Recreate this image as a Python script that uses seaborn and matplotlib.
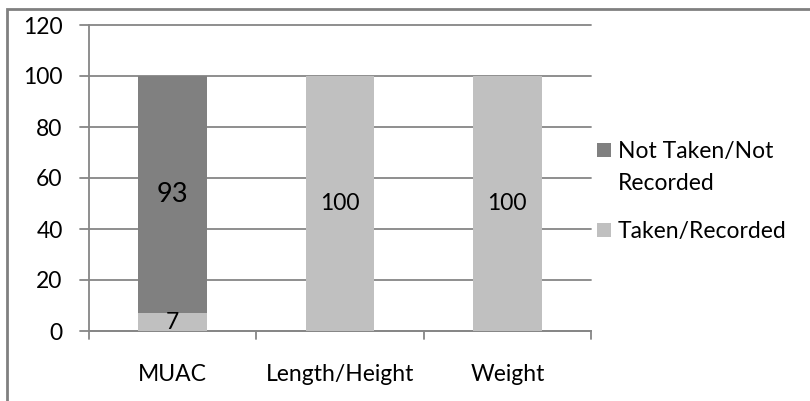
import matplotlib
matplotlib.use("Agg")
import matplotlib.pyplot as plt
import seaborn as sns
import pandas as pd
from matplotlib.patches import Rectangle

categories = ["MUAC", "Length/Height", "Weight"]
taken = [7, 100, 100]
not_taken = [93, 0, 0]
series_names = ["Not Taken/Not Recorded", "Taken/Recorded"]
legend_lines = [["Not Taken/Not", "Recorded"], ["Taken/Recorded"]]
yticks = [0, 20, 40, 60, 80, 100, 120]

sns.set_theme(style="white")
plt.rcParams['font.family'] = ['Lato', 'DejaVu Sans']

c_dark = "#808080"
c_light = "#C0C0C0"
grid_c = "#868686"
FS = 16.5

W, H = 810, 401
fig = plt.figure(figsize=(8.10, 4.01), dpi=100)
ax = fig.add_axes([89/W, 1 - 331/H, (591-89)/W, (331-25)/H])

df = pd.DataFrame({"cat": categories, "taken": taken, "not_taken": not_taken})
df["total"] = df["taken"] + df["not_taken"]

sns.barplot(data=df, x="cat", y="total", color=c_dark, width=0.41, ax=ax,
            saturation=1, edgecolor="none", zorder=3)
sns.barplot(data=df, x="cat", y="taken", color=c_light, width=0.41, ax=ax,
            saturation=1, edgecolor="none", zorder=4)

ax.set_ylim(0, 120)
ax.set_xlim(-0.5, 2.5)
ax.set_yticks(yticks)
ax.set_yticklabels([str(v) for v in yticks], fontsize=FS, color="black")
ax.tick_params(axis="y", length=0, pad=19)
ax.tick_params(axis="x", length=0, pad=23.5, labelsize=FS, labelcolor="black")
for y in yticks:
    ax.axhline(y, color=grid_c, lw=1.3, zorder=1, xmin=-0.018, clip_on=False)
ax.set_xlabel("")
ax.set_ylabel("")
for s in ["top", "right"]:
    ax.spines[s].set_visible(False)
ax.spines["left"].set_color(grid_c)
ax.spines["left"].set_linewidth(1.3)
ax.spines["bottom"].set_color(grid_c)
ax.spines["bottom"].set_linewidth(1.3)
# category boundary tick marks below axis
for xb in [-0.5, 0.5, 1.5, 2.5]:
    ax.plot([xb, xb], [0, -3.3], color=grid_c, lw=1.3, clip_on=False, zorder=2)

# data labels
for i, (t, n) in enumerate(zip(taken, not_taken)):
    if n > 0:
        ax.text(i, t + n / 2, str(n), ha="center", va="center", fontsize=19.5,
                color="black", zorder=5)
        ax.text(i, t / 2, str(t), ha="center", va="center", fontsize=FS,
                color="black", zorder=5)
    else:
        ax.text(i, 50, str(t), ha="center", va="center", fontsize=FS,
                color="black", zorder=5)

# legend (drawn manually to match the wrapped-label layout)
leg_colors = [c_dark, c_light]
sq_tops = [143, 223]
baselines = [[158, 190], [238]]
for col, top, lines, bls in zip(leg_colors, sq_tops, legend_lines, baselines):
    fig.patches.append(Rectangle((597/W, 1 - (top + 14)/H), 14/W, 14/H,
                                 transform=fig.transFigure, facecolor=col,
                                 edgecolor="none"))
    for ln, bl in zip(lines, bls):
        fig.text(618/W, 1 - bl/H, ln, ha="left", va="baseline", fontsize=FS,
                 color="black")

# outer chart border (top & left visible)
fig.patches.append(Rectangle((7/W, -0.05), 1.1, 1 - 8.5/H + 0.05,
                             transform=fig.transFigure, fill=False,
                             edgecolor="#808080", lw=2, zorder=0))

fig.savefig("out.png", dpi=100)
